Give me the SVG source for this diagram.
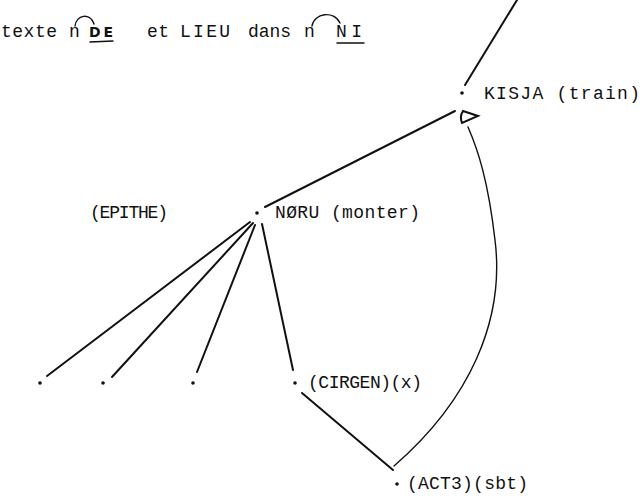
<svg xmlns="http://www.w3.org/2000/svg" width="643" height="500" viewBox="0 0 643 500">
<style>
text{font-family:"Liberation Mono","DejaVu Sans Mono",monospace;font-size:18px;fill:#111}
.hw{font-family:"DejaVu Sans","Liberation Sans",sans-serif;font-weight:bold;font-size:14px}
.ln{fill:none;stroke:#111;stroke-width:2;stroke-linecap:round}
.thin{fill:none;stroke:#111;stroke-width:1.4;stroke-linecap:round}
.dot{fill:#111}
</style>
<rect width="643" height="500" fill="#fff"/>
<g id="header">
<text x="1" y="37" textLength="56" lengthAdjust="spacing">texte</text>
<text x="69" y="37">n</text>
<path class="thin" d="M75,26 C76,15 90,12 94,24"/>
<text class="hw" x="89" y="37" textLength="24" lengthAdjust="spacing">DE</text>
<path class="thin" d="M90,42 L113,41"/>
<text x="147" y="37" textLength="22" lengthAdjust="spacing">et</text>
<text x="180" y="37" textLength="50" lengthAdjust="spacing">LIEU</text>
<text x="248" y="37" textLength="43" lengthAdjust="spacing">dans</text>
<text x="304" y="37">n</text>
<path class="thin" d="M312,26 C314,13 334,10 340,23"/>
<text x="336" y="37" textLength="26" lengthAdjust="spacing">NI</text>
<path class="thin" d="M337,43 L364,43"/>
</g>
<g id="connectors">
<path class="ln" d="M517,0 L465,85"/>
<path class="ln" d="M265,207 L455,111"/>
<path class="ln" d="M250,222 L47,376"/>
<path class="ln" d="M253,223 L112,377"/>
<path class="ln" d="M255,225 L197,372"/>
<path class="ln" d="M262,224 L293,370"/>
<path class="ln" d="M302,393 L393,470"/>
<path class="thin" d="M394,466 C470,400 505,320 495,240 C488,180 478,150 468,127"/>
<path class="ln" d="M463,111 L478,116 L462,123 C460,118 461,114 463,111 Z"/>
</g>
<g id="n-kisja">
<circle class="dot" cx="462" cy="93" r="1.8"/>
<text x="484" y="99" textLength="156" lengthAdjust="spacing">KISJA (train)</text>
</g>
<g id="n-noru">
<circle class="dot" cx="257" cy="213" r="1.8"/>
<text x="275" y="218" textLength="145" lengthAdjust="spacing">NØRU (monter)</text>
</g>
<g id="n-epithe">
<text x="90" y="218" textLength="78" lengthAdjust="spacing">(EPITHE)</text>
</g>
<g id="n-leaf1"><circle class="dot" cx="40" cy="383" r="1.8"/></g>
<g id="n-leaf2"><circle class="dot" cx="103" cy="383" r="1.8"/></g>
<g id="n-leaf3"><circle class="dot" cx="193" cy="383" r="1.8"/></g>
<g id="n-cirgen">
<circle class="dot" cx="295" cy="383" r="1.8"/>
<text x="308" y="388" textLength="114" lengthAdjust="spacing">(CIRGEN)(x)</text>
</g>
<g id="n-act3">
<circle class="dot" cx="397" cy="484" r="1.8"/>
<text x="407" y="489" textLength="121" lengthAdjust="spacing">(ACT3)(sbt)</text>
</g>
</svg>
